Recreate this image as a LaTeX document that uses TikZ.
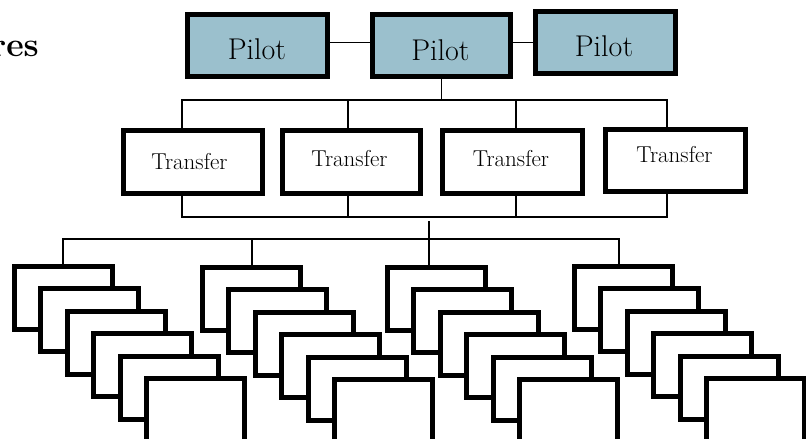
\documentclass[tikz,border=0pt]{standalone}
\usetikzlibrary{calc}
\definecolor{pilotfill}{RGB}{155,192,205}
\begin{document}
\begin{tikzpicture}[x=1pt,y=-1pt,
  pilotbox/.style={draw=black,line width=5pt,fill=pilotfill,inner sep=0pt,outer sep=0pt,minimum height=62pt},
  transbox/.style={draw=black,line width=5pt,fill=white,inner sep=0pt,outer sep=0pt,minimum width=139pt,minimum height=63pt},
  leafbox/.style={draw=black,line width=5pt,fill=white,inner sep=0pt,outer sep=0pt,minimum width=98pt,minimum height=63pt},
  pilottext/.style={anchor=base,inner sep=0pt,font=\fontsize{30}{36}\selectfont},
  transtext/.style={anchor=base,inner sep=0pt,font=\fontsize{23}{28}\selectfont},
  conn/.style={draw=black,line width=1.8pt}]
\useasboundingbox (0,0) rectangle (806,439);
\clip (0,0) rectangle (806,439);

% partial title
\node[anchor=base east,inner sep=0pt,font=\fontsize{34}{40}\selectfont\bfseries] (title) at (39,56.5) {res};

% pilot boxes
\node[pilotbox,minimum width=140pt] (p1) at (257.5,45.5) {};
\node[pilotbox,minimum width=138pt] (p2) at (441.5,45.5) {};
\node[pilotbox,minimum width=140pt] (p3) at (605.5,42.5) {};
\node[pilottext] (p1t) at (257,59.3) {Pilot};
\node[pilottext] (p2t) at (440.5,60) {Pilot};
\node[pilottext] (p3t) at (604,56.7) {Pilot};
\draw[conn] (p1.east |- p3.west) -- (p2.west |- p3.west);
\draw[conn] (p2.east |- p3.west) -- (p3.west);

% transfer boxes
\node[transbox] (t1) at (193,162) {};
\node[transbox,minimum width=138pt] (t2) at (351.5,162) {};
\node[transbox,minimum width=140pt] (t3) at (512.5,162) {};
\node[transbox,minimum width=140pt,minimum height=62pt] (t4) at (675.5,160.5) {};
\node[transtext] (t1t) at (189.5,169) {Transfer};
\node[transtext] (t2t) at (349.5,166) {Transfer};
\node[transtext] (t3t) at (511,166) {Transfer};
\node[transtext] (t4t) at (674.5,162.7) {Transfer};

% upper bus
\coordinate (b1) at (182,100);
\coordinate (b2) at (348,100);
\coordinate (b3) at (516,100);
\coordinate (b4) at (667,100);
\draw[conn] (p2.south) -- (p2.south |- b1);
\draw[conn] (b1 |- t1.north) -- (b1) -- (b4) -- (b4 |- t4.north);
\draw[conn] (b2) -- (b2 |- t2.north);
\draw[conn] (b3) -- (b3 |- t3.north);

% lower bus of transfers
\coordinate (c1) at (182,217);
\coordinate (c2) at (348,217);
\coordinate (c3) at (516,217);
\coordinate (c4) at (667,217);
\draw[conn] (c1 |- t1.south) -- (c1) -- (c4) -- (c4 |- t4.south);
\draw[conn] (c2 |- t2.south) -- (c2);
\draw[conn] (c3 |- t3.south) -- (c3);

% leaf stacks
\foreach \s/\cx/\cy in {1/63.5/298, 2/251.5/299, 3/436.5/299, 4/623.5/298}{
  \foreach \k [evaluate=\k as \dx using {(\k-1)*26.4}, evaluate=\k as \dy using {(\k-1)*22.4}] in {1,...,6}{
    \node[leafbox] (s\s-\k) at (\cx+\dx,\cy+\dy) {};
  }
}

% leaf bus
\coordinate (m) at (429,221);
\coordinate (d1) at (63,239);
\coordinate (d2) at (252,239);
\coordinate (d4) at (619,239);
\draw[conn] (m) -- (m |- s3-1.north);
\draw[conn] (d1 |- s1-1.north) -- (d1) -- (d4) -- (d4 |- s4-1.north);
\draw[conn] (d2) -- (d2 |- s2-1.north);
\end{tikzpicture}
\end{document}
